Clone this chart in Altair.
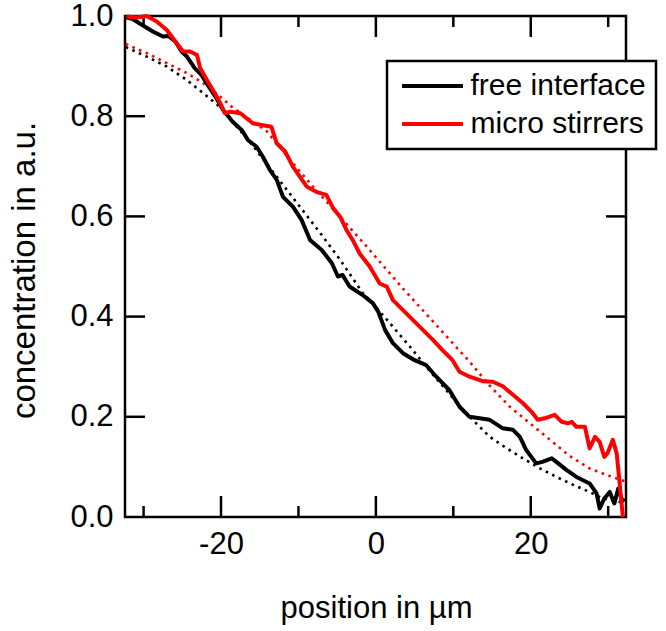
import altair as alt
import pandas as pd

# ---- data ----
series_names = ["free interface", "micro stirrers"]
series_colors = ["#000000", "#ff0000"]

free_x = [-32.4, -31.4, -30.5, -28.8, -27.5, -26.8, -25.9, -25.1, -24.4, -23.4, -22.5, -21.7,
          -20.6, -19.7, -18.5, -17.3, -16.5, -15.4, -14.6, -13.7, -12.8, -12.0, -10.7, -9.6,
          -8.5, -7.0, -5.7, -4.9, -4.3, -3.4, -1.7, -0.4, 0.3, 1.2, 2.2, 3.5, 5.0, 6.5, 7.8,
          9.5, 10.8, 12.1, 13.4, 14.7, 16.4, 17.7, 18.6, 19.4, 20.7, 21.5, 22.7, 23.3, 24.6,
          25.9, 27.6, 28.5, 28.9, 29.5, 30.2, 30.8, 31.3, 31.7, 32.1]
free_y = [0.998, 0.994, 0.985, 0.969, 0.959, 0.960, 0.949, 0.929, 0.919, 0.896, 0.882, 0.862,
          0.836, 0.812, 0.789, 0.772, 0.752, 0.739, 0.719, 0.693, 0.673, 0.639, 0.619, 0.593,
          0.553, 0.533, 0.507, 0.480, 0.483, 0.460, 0.443, 0.427, 0.410, 0.373, 0.347, 0.327,
          0.313, 0.303, 0.280, 0.253, 0.220, 0.200, 0.197, 0.194, 0.177, 0.174, 0.160, 0.134,
          0.107, 0.110, 0.117, 0.110, 0.094, 0.080, 0.067, 0.047, 0.017, 0.037, 0.050, 0.027,
          0.057, 0.037, 0.031]

stir_x = [-32.2, -30.9, -29.6, -28.3, -27.0, -25.9, -24.9, -24.0, -23.1, -22.7, -21.8, -20.8,
          -20.1, -19.5, -18.8, -17.5, -15.9, -14.6, -13.5, -12.8, -11.7, -10.7, -9.8, -8.9,
          -7.7, -6.4, -5.5, -4.6, -3.8, -3.0, -2.1, -0.8, 0.5, 1.4, 2.2, 3.5, 4.8, 6.1, 7.4,
          8.6, 9.9, 10.8, 12.1, 13.8, 15.1, 16.4, 17.7, 19.0, 20.1, 20.9, 21.8, 23.1, 24.0,
          24.8, 25.3, 25.9, 27.0, 27.6, 28.3, 28.9, 29.5, 29.9, 30.6, 31.1, 31.9]
stir_y = [0.999, 0.997, 1.0, 0.989, 0.972, 0.949, 0.929, 0.929, 0.922, 0.896, 0.872, 0.846,
          0.826, 0.806, 0.809, 0.806, 0.786, 0.782, 0.779, 0.746, 0.729, 0.699, 0.679, 0.659,
          0.649, 0.643, 0.616, 0.599, 0.573, 0.553, 0.526, 0.500, 0.466, 0.460, 0.433, 0.413,
          0.393, 0.373, 0.353, 0.333, 0.313, 0.290, 0.280, 0.271, 0.270, 0.261, 0.244, 0.227,
          0.210, 0.194, 0.197, 0.204, 0.190, 0.187, 0.190, 0.180, 0.180, 0.137, 0.160, 0.150,
          0.120, 0.127, 0.154, 0.127, 0.0]

fit_free_x = [-32.3, -29.6, -27.0, -24.4, -22.3, -20.1, -16.3, -13.3, -10.2, -7.2, -4.6, -1.7,
              -0.8, 1.8, 4.4, 6.5, 9.1, 11.2, 14.7, 16.9, 19.0, 21.2, 23.3, 25.5, 27.6, 29.3, 32.1]
fit_free_y = [0.938, 0.919, 0.899, 0.872, 0.846, 0.818, 0.749, 0.689, 0.627, 0.567, 0.513, 0.447,
              0.433, 0.387, 0.340, 0.300, 0.253, 0.214, 0.160, 0.137, 0.117, 0.097, 0.080, 0.064,
              0.050, 0.037, 0.028]

fit_stir_x = [-32.3, -29.6, -27.0, -24.4, -22.3, -20.1, -18.4, -14.1, -11.1, -8.1, -4.6, -1.2,
              3.5, 7.8, 12.1, 14.7, 17.3, 19.9, 22.5, 25.0, 27.6, 29.8, 31.1, 32.1]
fit_stir_y = [0.944, 0.926, 0.906, 0.886, 0.866, 0.839, 0.816, 0.770, 0.713, 0.659, 0.599, 0.540,
              0.456, 0.383, 0.310, 0.262, 0.220, 0.187, 0.154, 0.122, 0.097, 0.084, 0.077, 0.072]

x_label_values = [-20, 0, 20]
x_major_ticks = [-20, 0, 20]
x_minor_ticks = [-30, -10, 10, 30]
y_label_values = [0.0, 0.2, 0.4, 0.6, 0.8, 1.0]
y_ticks = [0.2, 0.4, 0.6, 0.8]

# ---- layout ----
W, H = 501, 501
FONT = "Liberation Sans"

lines_df = pd.concat([
    pd.DataFrame({"x": free_x, "y": free_y, "series": series_names[0]}),
    pd.DataFrame({"x": stir_x, "y": stir_y, "series": series_names[1]}),
])
fit_free_df = pd.DataFrame({"x": fit_free_x, "y": fit_free_y})
fit_stir_df = pd.DataFrame({"x": fit_stir_x, "y": fit_stir_y})

xs = alt.Scale(domain=[-32.4, 32.3], nice=False, zero=False)
ys = alt.Scale(domain=[0, 1], nice=False)

X_AXIS = alt.Axis(values=x_label_values, ticks=False, domain=False, grid=False,
                  labelFontSize=31, labelPadding=12, labelColor="black", labelFont=FONT,
                  labelExpr="replace(datum.label, '\u2212', '-')",
                  title="position in µm", titleFontSize=31, titleFont=FONT,
                  titleFontWeight="normal", titleColor="black",
                  titleX=251, titleY=100, titleBaseline="alphabetic", titleAlign="center")
Y_AXIS = alt.Axis(values=y_label_values, format=".1f", ticks=False, domain=False, grid=False,
                  labelFontSize=31, labelPadding=12, labelColor="black", labelFont=FONT,
                  title="concentration in a.u.", titleFontSize=33, titleFont=FONT,
                  titleFontWeight="normal", titleColor="black",
                  titleX=-91, titleY=254, titleAngle=270, titleBaseline="alphabetic",
                  titleAlign="center")

X = lambda: alt.X("x:Q", scale=xs, axis=X_AXIS)
Y = lambda: alt.Y("y:Q", scale=ys, axis=Y_AXIS)

fit_free = alt.Chart(fit_free_df).mark_line(
    color="#000000", strokeWidth=2.6, strokeDash=[2.6, 4.6]
).encode(x=X(), y=Y())
fit_stir = alt.Chart(fit_stir_df).mark_line(
    color="#ff0000", strokeWidth=2.6, strokeDash=[2.6, 4.6]
).encode(x=X(), y=Y())

solid = alt.Chart(lines_df).mark_line(strokeWidth=4, strokeJoin="round").encode(
    x=X(), y=Y(),
    color=alt.Color("series:N", scale=alt.Scale(domain=series_names, range=series_colors),
                    legend=alt.Legend(title=None, orient="none", legendX=262, legendY=45,
                                      direction="vertical", symbolType="M-4,0L4,0",
                                      symbolSize=232, symbolStrokeWidth=4,
                                      symbolOffset=20.5,
                                      labelFontSize=30, labelFont=FONT, labelColor="black",
                                      labelLimit=400, labelOffset=23, rowPadding=8,
                                      padding=10, strokeColor="black", fillColor="white")),
    order=alt.Order("x:Q"),
)

xmaj_df = pd.DataFrame({"x": x_major_ticks})
xmin_df = pd.DataFrame({"x": x_minor_ticks})
yt_df = pd.DataFrame({"y": y_ticks})

tick_style = dict(color="black", strokeWidth=2.5)
bottom_major = alt.Chart(xmaj_df).mark_rule(**tick_style).encode(
    x=X(), y=alt.value(H), y2=alt.value(H - 21))
top_major = alt.Chart(xmaj_df).mark_rule(**tick_style).encode(
    x=X(), y=alt.value(0), y2=alt.value(21))
bottom_minor = alt.Chart(xmin_df).mark_rule(**tick_style).encode(
    x=X(), y=alt.value(H), y2=alt.value(H - 11))
top_minor = alt.Chart(xmin_df).mark_rule(**tick_style).encode(
    x=X(), y=alt.value(0), y2=alt.value(11))
left_ticks = alt.Chart(yt_df).mark_rule(**tick_style).encode(
    y=Y(), x=alt.value(0), x2=alt.value(20))
right_ticks = alt.Chart(yt_df).mark_rule(**tick_style).encode(
    y=Y(), x=alt.value(W), x2=alt.value(W - 20))

chart = alt.layer(
    bottom_major, top_major, bottom_minor, top_minor, left_ticks, right_ticks,
    fit_free, fit_stir, solid
).properties(
    width=W, height=H,
    autosize=alt.AutoSizeParams(type="none"),
    padding={"left": 125, "top": 16, "right": 40, "bottom": 114},
    background="white",
).configure_view(
    stroke="black", strokeWidth=2.5
).configure_legend(
    strokeWidth=2.5
)

chart.save("out.html", embed_options={"renderer": "svg", "actions": False})
